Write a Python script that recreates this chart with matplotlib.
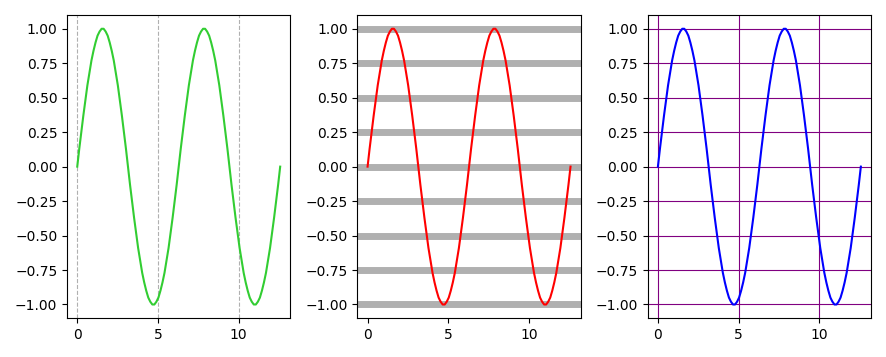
import numpy as np
import matplotlib
matplotlib.use("Agg")
import matplotlib.pyplot as plt

# x positions (0 .. 4*pi in 100 steps) and values
x_values = [i * 0.12566 for i in range(101)]
y_period = [0.00, 0.13, 0.25, 0.37, 0.48, 0.59, 0.68, 0.77, 0.84, 0.90, 0.95, 0.98, 1.00,
            1.00, 0.98, 0.95, 0.90, 0.84, 0.77, 0.68, 0.59, 0.48, 0.37, 0.25, 0.13,
            0.00, -0.13, -0.25, -0.37, -0.48, -0.59, -0.68, -0.77, -0.84, -0.90, -0.95, -0.98, -1.00,
            -1.00, -0.98, -0.95, -0.90, -0.84, -0.77, -0.68, -0.59, -0.48, -0.37, -0.25, -0.13]
y_values = y_period + y_period + [0.00]

line_colors = ["limegreen", "red", "blue"]

fig, axes = plt.subplots(1, 3, figsize=(8.86, 3.57), dpi=100)

ax1, ax2, ax3 = axes
ax1.plot(x_values, y_values, color=line_colors[0])
ax1.grid(axis="x", linestyle="--", linewidth=0.8, color="#b0b0b0")

ax2.plot(x_values, y_values, color=line_colors[1])
ax2.grid(axis="y", linewidth=5, color="#b0b0b0")

ax3.plot(x_values, y_values, color=line_colors[2])
ax3.grid(color="purple", linewidth=0.8)

fig.tight_layout()
fig.savefig("out.png", dpi=100)
